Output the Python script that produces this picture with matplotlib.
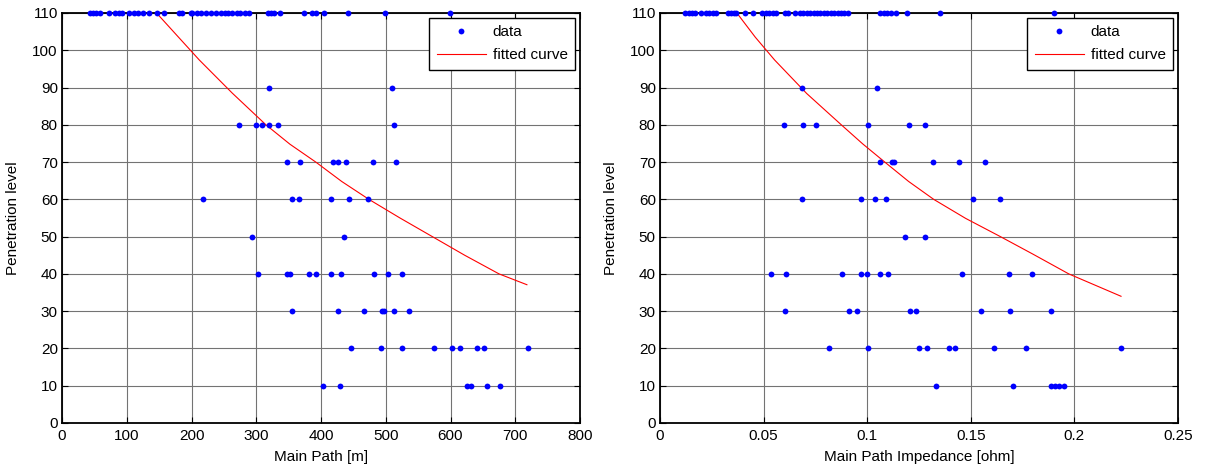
import numpy as np
import matplotlib
matplotlib.use("Agg")
import matplotlib.pyplot as plt

plt.rcParams['font.family'] = ['Liberation Sans', 'DejaVu Sans']

# ---------------- Left chart: Main Path [m] ----------------
path_110 = [43, 48, 53, 58, 72, 82, 88, 93, 103, 111, 118, 125, 134, 146, 158,
            180, 185, 199, 201, 209, 215, 222, 230, 238, 246, 252, 257, 262, 270,
            275, 283, 289, 318, 323, 328, 336, 373, 386, 392, 405, 441, 499, 599]
path_90 = [320, 510]
path_80 = [274, 299, 309, 320, 333, 512]
path_70 = [347, 368, 418, 427, 438, 481, 516]
path_60 = [217, 355, 366, 415, 444, 472]
path_50 = [294, 436]
path_40 = [303, 347, 352, 381, 392, 415, 431, 482, 504, 525]
path_30 = [355, 426, 466, 494, 498, 512, 536]
path_20 = [447, 492, 525, 575, 602, 615, 641, 652, 720]
path_10 = [403, 429, 625, 631, 656, 676]

# fitted curve
path_fit_x = [146, 180, 212, 263, 315, 352, 392, 432, 474, 522, 572, 622, 675, 718]
path_fit_y = [110, 103.5, 97.4, 88.5, 80, 74.8, 70, 64.8, 60, 55, 50, 45, 40, 37.1]

# ---------------- Right chart: Main Path Impedance [ohm] ----------------
imp_110 = [0.0122, 0.0138, 0.0154, 0.0171, 0.0196, 0.0221, 0.0237, 0.0254, 0.0270,
           0.0328, 0.0344, 0.0356, 0.0369, 0.0410, 0.0448, 0.0493, 0.0510, 0.0526,
           0.0543, 0.0559, 0.0601, 0.0617, 0.0650, 0.0675, 0.0691, 0.0708, 0.0724,
           0.0741, 0.0757, 0.0774, 0.0790, 0.0807, 0.0824, 0.0840, 0.0857, 0.0873,
           0.0890, 0.0906, 0.1063, 0.1080, 0.1096, 0.1113, 0.1137, 0.1190, 0.1352,
           0.1902]
imp_90 = [0.0683, 0.1047]
imp_80 = [0.0597, 0.0690, 0.0753, 0.1005, 0.1202, 0.1278]
imp_70 = [0.1063, 0.1121, 0.1129, 0.1317, 0.1444, 0.1570]
imp_60 = [0.0683, 0.0970, 0.1040, 0.1093, 0.1512, 0.1639]
imp_50 = [0.1184, 0.1278]
imp_40 = [0.0534, 0.0609, 0.0878, 0.0970, 0.1000, 0.1063, 0.1098, 0.1459, 0.1684, 0.1795]
imp_30 = [0.0602, 0.0913, 0.0949, 0.1205, 0.1236, 0.1547, 0.1691, 0.1886]
imp_20 = [0.0815, 0.1005, 0.1251, 0.1288, 0.1395, 0.1422, 0.1610, 0.1765, 0.2226]
imp_10 = [0.1334, 0.1702, 0.1886, 0.1905, 0.1927, 0.1948]

imp_fit_x = [0.0371, 0.0460, 0.0553, 0.0708, 0.0875, 0.0978, 0.1085, 0.1200,
             0.1321, 0.1475, 0.1643, 0.1800, 0.1973, 0.2225]
imp_fit_y = [110, 103.5, 97.4, 88.4, 80, 74.9, 70, 64.8, 60, 54.9, 50, 45.3, 40, 34.0]

levels = [110, 90, 80, 70, 60, 50, 40, 30, 20, 10]
path_rows = [path_110, path_90, path_80, path_70, path_60, path_50, path_40,
             path_30, path_20, path_10]
imp_rows = [imp_110, imp_90, imp_80, imp_70, imp_60, imp_50, imp_40,
            imp_30, imp_20, imp_10]

x_labels = ["Main Path [m]", "Main Path Impedance [ohm]"]
y_label = "Penetration level"
legend_labels = ["data", "fitted curve"]

W, H = 1208, 470
fig = plt.figure(figsize=(W / 100, H / 100), dpi=100)
FS = 11


def make_axes(px_left, px_right, px_top, px_bottom):
    return fig.add_axes([px_left / W, 1 - px_bottom / H,
                         (px_right - px_left) / W, (px_bottom - px_top) / H])


def style_axes(ax, xlim, xticks, xlabel):
    ax.set_xlim(*xlim)
    ax.set_ylim(0, 110)
    ax.set_xticks(xticks)
    ax.set_yticks(np.arange(0, 111, 10))
    ax.grid(True, color='#737373', linewidth=0.8, linestyle='-')
    ax.set_axisbelow(True)
    ax.tick_params(direction='in', length=4, width=0.8, top=True, right=True,
                   labelsize=FS, colors='black')
    ax.tick_params(axis='x', pad=4)
    ax.tick_params(axis='y', pad=3)
    for s in ax.spines.values():
        s.set_linewidth(1.3)
        s.set_color('black')
    ax.set_xlabel(xlabel, fontsize=FS, labelpad=5)
    ax.set_ylabel(y_label, fontsize=FS, labelpad=9)


def draw(ax, rows, fit_x, fit_y):
    xs, ys = [], []
    for lv, row in zip(levels, rows):
        xs.extend(row)
        ys.extend([lv] * len(row))
    ax.plot(xs, ys, linestyle='none', marker='o', markersize=4.2,
            markerfacecolor='#0000ff', markeredgecolor='#0000ff',
            markeredgewidth=0, label=legend_labels[0], clip_on=False, zorder=4)
    ax.plot(fit_x, fit_y, color='#ff0000', linewidth=0.8,
            label=legend_labels[1], zorder=3)
    leg = ax.legend(loc='upper right', fancybox=False, framealpha=1,
                    edgecolor='black', fontsize=FS, borderaxespad=0.3,
                    handlelength=3.2, handletextpad=0.45, borderpad=0.5,
                    labelspacing=0.6)
    leg.get_frame().set_linewidth(1.0)


ax1 = make_axes(62, 580, 13, 423)
style_axes(ax1, (0, 800), np.arange(0, 801, 100), x_labels[0])
draw(ax1, path_rows, path_fit_x, path_fit_y)

ax2 = make_axes(660, 1178, 13, 423)
style_axes(ax2, (0, 0.25), [0, 0.05, 0.1, 0.15, 0.2, 0.25], x_labels[1])
ax2.set_xticklabels(['0', '0.05', '0.1', '0.15', '0.2', '0.25'])
draw(ax2, imp_rows, imp_fit_x, imp_fit_y)

fig.savefig("out.png", dpi=100)
